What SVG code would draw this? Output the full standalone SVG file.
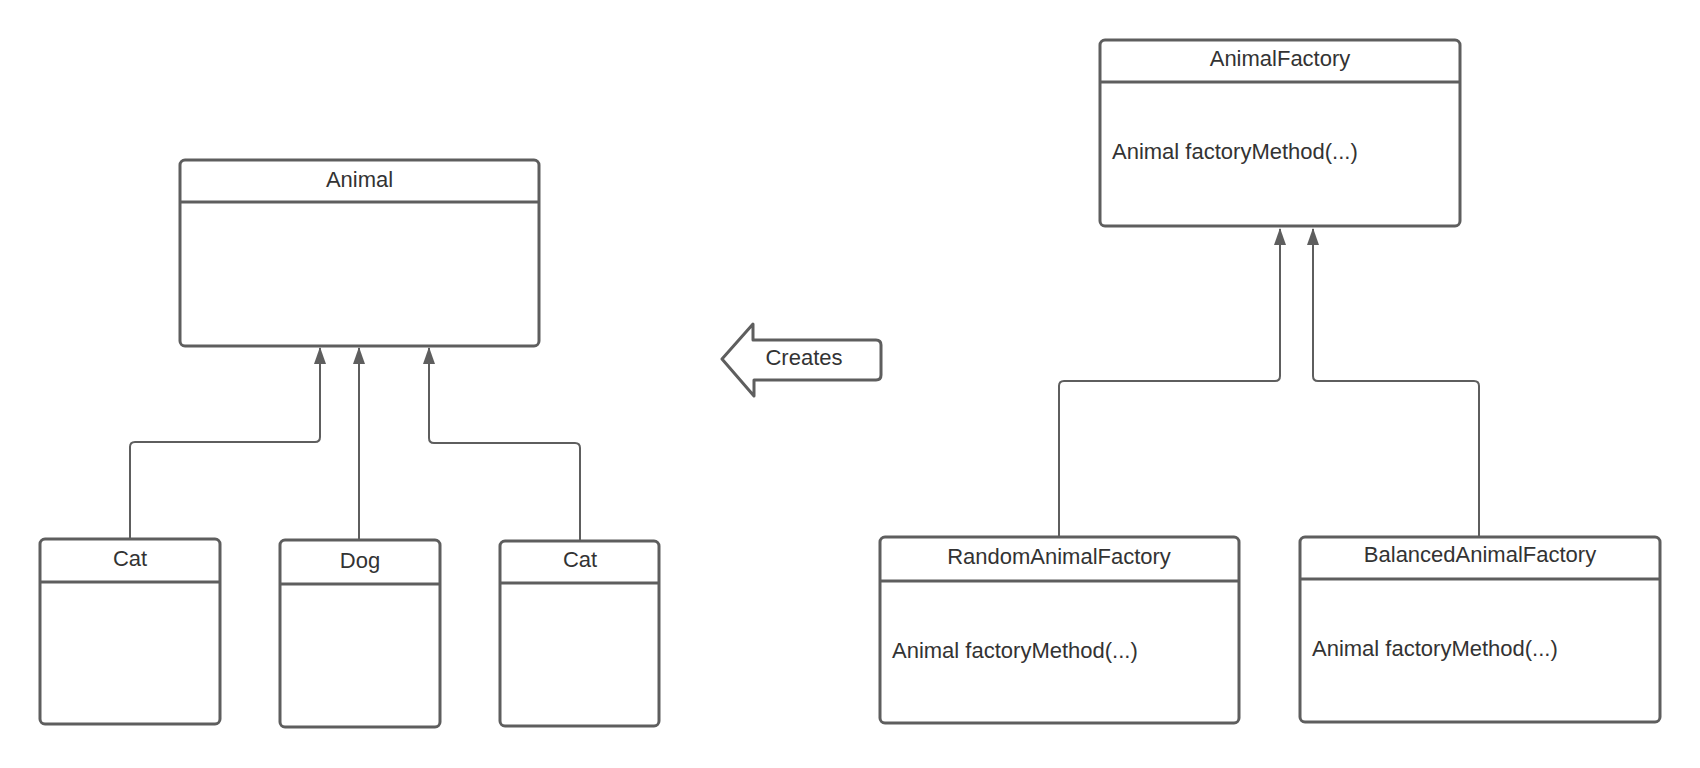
<svg xmlns="http://www.w3.org/2000/svg" width="1700" height="768" viewBox="0 0 1700 768">
<style>
.box{fill:#ffffff;stroke:#5e5e5e;stroke-width:3}
.sep{stroke:#5e5e5e;stroke-width:3}
.conn{fill:none;stroke:#5e5e5e;stroke-width:2}
.head{fill:#5e5e5e}
text{font-family:"Liberation Sans",Arial,sans-serif;font-size:22px;fill:#333333}
.c{text-anchor:middle}
</style>
<rect width="1700" height="768" fill="#ffffff"/>
<g id="connectors">
<path class="conn" d="M130 539 V447 Q130 442 135 442 H315 Q320 442 320 437 V348"/>
<path class="conn" d="M359 539 V348"/>
<path class="conn" d="M580 541 V448 Q580 443 575 443 H434 Q429 443 429 438 V348"/>
<path class="conn" d="M1059 537 V386 Q1059 381 1064 381 H1275 Q1280 381 1280 376 V229"/>
<path class="conn" d="M1479 537 V386 Q1479 381 1474 381 H1318 Q1313 381 1313 376 V229"/>
<path class="head" d="M320 347 L326 364 L314 364 Z"/>
<path class="head" d="M359 347 L365 364 L353 364 Z"/>
<path class="head" d="M429 347 L435 364 L423 364 Z"/>
<path class="head" d="M1280 228 L1286 245 L1274 245 Z"/>
<path class="head" d="M1313 228 L1319 245 L1307 245 Z"/>
</g>
<g id="animal">
<rect class="box" x="180" y="160" width="359" height="186" rx="5"/>
<line class="sep" x1="180" y1="202" x2="539" y2="202"/>
<text class="c" x="359.5" y="187">Animal</text>
</g>
<g id="cat1">
<rect class="box" x="40" y="539" width="180" height="185" rx="5"/>
<line class="sep" x1="40" y1="582" x2="220" y2="582"/>
<text class="c" x="130" y="566">Cat</text>
</g>
<g id="dog">
<rect class="box" x="280" y="540" width="160" height="187" rx="5"/>
<line class="sep" x1="280" y1="584" x2="440" y2="584"/>
<text class="c" x="360" y="568">Dog</text>
</g>
<g id="cat2">
<rect class="box" x="500" y="541" width="159" height="185" rx="5"/>
<line class="sep" x1="500" y1="583" x2="659" y2="583"/>
<text class="c" x="580" y="567">Cat</text>
</g>
<g id="creates">
<path d="M722 359 L753 324 V340 H876 Q881 340 881 345 V375 Q881 380 876 380 H754 V396 Z" fill="#ffffff" stroke="#5e5e5e" stroke-width="3" stroke-linejoin="round"/>
<text class="c" x="804" y="365">Creates</text>
</g>
<g id="animalFactory">
<rect class="box" x="1100" y="40" width="360" height="186" rx="5"/>
<line class="sep" x1="1100" y1="82" x2="1460" y2="82"/>
<text class="c" x="1280" y="66">AnimalFactory</text>
<text x="1112" y="159">Animal factoryMethod(...)</text>
</g>
<g id="randomAnimalFactory">
<rect class="box" x="880" y="537" width="359" height="186" rx="5"/>
<line class="sep" x1="880" y1="581" x2="1239" y2="581"/>
<text class="c" x="1059" y="564">RandomAnimalFactory</text>
<text x="892" y="658">Animal factoryMethod(...)</text>
</g>
<g id="balancedAnimalFactory">
<rect class="box" x="1300" y="537" width="360" height="185" rx="5"/>
<line class="sep" x1="1300" y1="579" x2="1660" y2="579"/>
<text class="c" x="1480" y="562">BalancedAnimalFactory</text>
<text x="1312" y="656">Animal factoryMethod(...)</text>
</g>
</svg>
